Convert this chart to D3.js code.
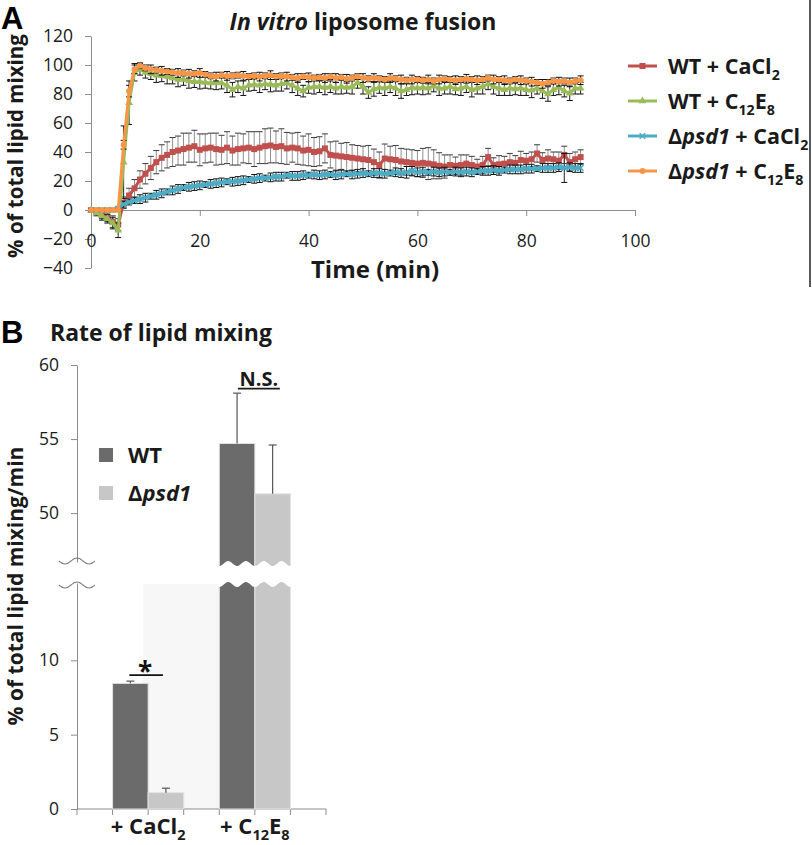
<!DOCTYPE html>
<html><head><meta charset="utf-8">
<script src="https://cdn.jsdelivr.net/npm/d3@7/dist/d3.min.js"></script>
<style>
html,body{margin:0;padding:0;background:#fff;}
svg{display:block;}
text{font-family:"Open Sans","Noto Sans",sans-serif;}
</style></head>
<body>
<svg id="chart" width="812" height="845"></svg>
<script>
// ---------------- DATA: Panel A ----------------
const timeMin = [0,1,2,3,4,5,6,7,8,9,10,11,12,13,14,15,16,17,18,19,20,21,22,23,24,25,26,27,28,29,30,
  31,32,33,34,35,36,37,38,39,40,41,42,43,44,45,46,47,48,49,50,51,52,53,54,55,56,57,58,59,60,
  61,62,63,64,65,66,67,68,69,70,71,72,73,74,75,76,77,78,79,80,81,82,83,84,85,86,87,88,89,90];

const wtCaCl2 = [0,-1,-3,-5,-8,-10,5,10,15,21,
  25,29,33,36,38,40,41,42,43,44,
  41.5,42.5,43,42,41.5,43,41,42,42.5,43,
  42,43,44,44.5,43.5,44,42.5,43,42.5,41,
  41.5,40,40.5,42.5,38,37.5,37,36.5,36,35.5,
  35,34.5,33,31,35.5,35,34.5,33.5,33,32.5,
  32,32.5,32,31.5,30.5,30,31,30.5,31,32,
  31,30,31,36.5,31,31.5,32,33,32.5,34.5,
  34,35,39,34.5,35.5,35,34,38,33,35,
  36.5];
const wtCaCl2Err = [1,2,3,3,4,4,4,5,6,6,
  7,8,8,9,9,10,10,11,10,11,
  11,10,10,11,10,11,10,11,10,11,
  12,11,12,12,11,12,11,10,11,10,
  11,10,10,10,9,10,9,10,9,9,
  9,10,9,9,10,9,10,9,9,9,
  9,10,11,10,9,8,7,6,7,6,
  6,5,6,6,5,6,5,6,5,6,
  5,5,6,5,6,5,6,6,6,5,
  5];

const wtC12E8 = [0,-2,-4,-6,-9,-14,33,74,95,97,
  95,94,93,92.5,92,91,90,90,89,88.5,
  88.5,88,87.5,88,87.5,86,83,85,84,86,
  86.5,86,87,86.5,86,87,87.5,86,84,82,
  84.5,85,85,84.5,85,84,85,84.5,85,88,
  85,81,83.5,84.5,84,85,84,82,83,84.5,
  84,84.5,84,85.5,84,84,85,83.5,84,85,
  83,84,85,87,85,84,83,84,83.5,84,
  83,82.5,84,82,80,83,84.5,82,80.5,84,
  84];
const wtC12E8Err = [1,2,3,3,4,5,25,15,6,4,
  4,4,5,4,5,4,5,4,5,4,
  5,4,4,5,4,5,5,4,5,4,
  4,5,4,5,4,5,4,5,5,4,
  4,5,4,5,4,4,5,4,5,4,
  5,4,5,4,5,4,5,5,4,5,
  4,5,4,4,5,4,5,4,5,4,
  5,4,5,4,5,5,4,5,4,5,
  4,5,4,5,5,4,5,4,5,4,
  4];

const psd1CaCl2 = [0,0,0,0,0,1,4,5.5,6.5,7.5,
  8.5,9.5,10.5,11.5,12.5,13.5,14.5,15.5,16,16.5,
  17,17.5,18,18.5,19,19.5,19.5,20,20.5,21,
  21.5,22,22,22.5,23,23,24,23.5,23.5,24,
  24,24.5,24,24.5,24.5,24,24.5,25,24.5,25,
  25.5,25,25.5,25.5,25,25.5,26,25.5,26,27,
  26,26.5,26,26.5,26,26.5,26,26.5,26,26.5,
  26,26.5,27,27,27.5,27,27.5,28,28,28,
  28.5,28.5,28.5,29,29,29,29.5,29,29.5,29,
  29];
const psd1CaCl2Err = [1,1,1,1,1,1,2,2,2,3,
  3,2,3,3,2,3,3,2,3,3,
  3,2,3,3,3,2,3,3,3,2,
  3,3,2,3,3,3,2,3,3,3,
  2,3,3,3,2,3,3,2,3,3,
  3,2,3,3,3,2,3,3,4,3,
  3,3,2,3,3,3,2,3,3,3,
  3,2,3,3,3,3,2,3,3,3,
  3,3,2,3,3,3,3,10,3,3,
  3];

const psd1C12E8 = [0,0,0,0,0,0,45,82,97,99.5,
  98,97,96.5,96,95.5,95,94.5,94.5,94,94,
  94.5,93.5,92.5,92,93,92.5,92.5,93,92.5,92,
  92.5,92,92.5,93,92,92.5,92,91.5,91,92,
  91.5,91,91.5,91,92,91,91.5,90.5,91,92,
  91,90.5,91,90.5,90,91,90.5,90,89.5,90,
  90,89.5,90,89,90,90.5,90,89.5,90,90.5,
  90,89.5,90,91,90,90,89.5,89,90,89.5,
  89,88.5,88,87,88,89,88.5,89,88,89,
  89.5];
const psd1C12E8Err = [1,1,1,1,1,1,3,4,3,2,
  2,3,2,3,2,2,3,2,3,2,
  3,2,2,3,2,3,2,2,3,2,
  2,3,2,3,2,2,3,2,3,2,
  3,2,2,3,2,3,2,3,2,2,
  3,2,3,2,2,3,2,3,2,3,
  2,2,3,2,3,2,2,3,2,3,
  2,3,2,2,3,2,3,2,2,3,
  2,3,2,3,2,2,3,2,3,2,
  3];

const xTicksA = [0,20,40,60,80,100];
const yTicksA = [-40,-20,0,20,40,60,80,100,120];

// ---------------- DATA: Panel B ----------------
const rateCategories = ["CaCl2", "C12E8"];
const rateGroups = ["WT", "psd1"];
const rateWT = [8.45, 54.7];
const rateWTErr = [0.15, 3.4];
const ratePsd1 = [1.1, 51.3];
const ratePsd1Err = [0.3, 3.3];
const yTicksBLow = [0, 5, 10];
const yTicksBHigh = [50, 55, 60];

// ---------------- DRAWING ----------------
const svg = d3.select("#chart");
const AXIS_COLOR = "#8c8c8c";
const TXT = "#1a1a1a";

function styleAxis(g, fs) {
  g.attr("font-family", null).attr("font-size", null);
  g.select(".domain").attr("stroke", AXIS_COLOR).attr("stroke-width", 1);
  g.selectAll(".tick line").attr("stroke", AXIS_COLOR);
  g.selectAll(".tick text").attr("fill", TXT).style("font-size", fs + "px");
}

// helper for rich text parts
function addParts(textSel, parts, baseSize, subShift) {
  const sh = subShift == null ? 0.3 : subShift;
  let shifted = 0;
  parts.forEach(p => {
    const ts = textSel.append("tspan").text(p.t);
    if (p.it) ts.style("font-style", "italic");
    if (p.sub) {
      ts.style("font-size", (baseSize * 0.66) + "px").attr("dy", baseSize * sh - shifted);
      shifted = baseSize * sh;
    } else if (shifted) {
      ts.attr("dy", -shifted);
      shifted = 0;
    }
  });
}

// ======== Panel A ========
const xA = d3.scaleLinear().domain([0, 100]).range([91, 635]);
const yA = d3.scaleLinear().domain([-40, 120]).range([268, 36]);

const gyA = svg.append("g").attr("transform", `translate(${xA(0)},0)`)
  .call(d3.axisLeft(yA).tickValues(yTicksA).tickSize(6).tickSizeOuter(0).tickPadding(12));
styleAxis(gyA, 17.5);
const gxA = svg.append("g").attr("transform", `translate(0,${yA(0)})`)
  .call(d3.axisBottom(xA).tickValues(xTicksA).tickSize(6).tickSizeOuter(0).tickPadding(19));
styleAxis(gxA, 17.5);

const seriesA = [
  {values: wtCaCl2, err: wtCaCl2Err, color: "#C0504D", marker: "square", errStem: "#8f8f8f", errCap: "#3a3a3a",
   label: [{t:"WT + CaCl"},{t:"2",sub:true}]},
  {values: wtC12E8, err: wtC12E8Err, color: "#9BBB59", marker: "triangle", errStem: "#222", errCap: "#111",
   label: [{t:"WT + C"},{t:"12",sub:true},{t:"E"},{t:"8",sub:true}]},
  {values: psd1CaCl2, err: psd1CaCl2Err, color: "#4BACC6", marker: "times", errStem: "#222", errCap: "#111",
   label: [{t:"Δ"},{t:"psd1",it:true},{t:" + CaCl"},{t:"2",sub:true}]},
  {values: psd1C12E8, err: psd1C12E8Err, color: "#F79646", marker: "circle", errStem: "#222", errCap: "#111",
   label: [{t:"Δ"},{t:"psd1",it:true},{t:" + C"},{t:"12",sub:true},{t:"E"},{t:"8",sub:true}]}
];

function drawMarker(g, type, color, cx, cy, scale) {
  const s = scale || 1;
  if (type === "square") {
    g.append("rect").attr("x", cx - 3*s).attr("y", cy - 3*s).attr("width", 6*s).attr("height", 6*s).attr("fill", color);
  } else if (type === "triangle") {
    g.append("path").attr("d", d3.symbol(d3.symbolTriangle, 26*s*s)()).attr("transform", `translate(${cx},${cy})`).attr("fill", color);
  } else if (type === "times") {
    g.append("path").attr("d", d3.symbol(d3.symbolTimes, 22*s*s)()).attr("transform", `translate(${cx},${cy})`)
      .attr("fill", "none").attr("stroke", color).attr("stroke-width", 1.6);
  } else {
    g.append("circle").attr("cx", cx).attr("cy", cy).attr("r", 3*s).attr("fill", color);
  }
}

const lineGen = d3.line().x((d, i) => xA(timeMin[i])).y(d => yA(d));
const plotA = svg.append("g");
seriesA.forEach(s => {
  const eg = plotA.append("g");
  s.values.forEach((v, i) => {
    const x = xA(timeMin[i]);
    const y1 = yA(v - s.err[i]), y2 = yA(v + s.err[i]);
    eg.append("line").attr("x1", x).attr("x2", x).attr("y1", y1).attr("y2", y2)
      .attr("stroke", s.errStem).attr("stroke-width", 1);
    [y1, y2].forEach(yy => eg.append("line").attr("x1", x - 3).attr("x2", x + 3).attr("y1", yy).attr("y2", yy)
      .attr("stroke", s.errCap).attr("stroke-width", 1));
  });
  plotA.append("path").attr("d", lineGen(s.values)).attr("fill", "none")
    .attr("stroke", s.color).attr("stroke-width", 3).attr("stroke-linejoin", "round");
  const mg = plotA.append("g");
  s.values.forEach((v, i) => drawMarker(mg, s.marker, s.color, xA(timeMin[i]), yA(v)));
});

// Title A
const tA = svg.append("text").attr("x", 363).attr("y", 30).attr("text-anchor", "middle")
  .style("font-size", "23px").style("font-weight", "bold").attr("fill", TXT);
tA.append("tspan").style("font-style", "italic").text("In vitro");
tA.append("tspan").text(" liposome fusion");

// Axis titles A
svg.append("text").attr("x", xA(50) + 12).attr("y", 278).attr("text-anchor", "middle")
  .style("font-size", "24px").style("font-weight", "bold").attr("fill", TXT).text("Time (min)");
svg.append("text").attr("transform", "translate(23,146) rotate(-90)").attr("text-anchor", "middle")
  .style("font-size", "20.5px").style("font-weight", "bold").attr("fill", TXT).text("% of total lipid mixing");

// Panel letter A
svg.append("text").attr("x", 1).attr("y", 29).style("font-family", "'Liberation Sans', Arial, sans-serif")
  .style("font-size", "31px").style("font-weight", "bold").attr("fill", "#000").text("A");

// Legend A
const legA = svg.append("g");
seriesA.forEach((s, i) => {
  const cy = 66 + i * 35;
  legA.append("line").attr("x1", 628).attr("x2", 657).attr("y1", cy).attr("y2", cy)
    .attr("stroke", s.color).attr("stroke-width", 3);
  drawMarker(legA, s.marker, s.color, 642.5, cy, 1);
  const t = legA.append("text").attr("x", 668).attr("y", cy + 8)
    .style("font-size", "21.5px").style("font-weight", "bold").attr("fill", TXT);
  addParts(t, s.label, 21.5);
});

// right border line
svg.append("line").attr("x1", 810).attr("x2", 810).attr("y1", 0).attr("y2", 287)
  .attr("stroke", "#222").attr("stroke-width", 1.5);

// ======== Panel B ========
const x0B = d3.scaleBand().domain(rateCategories).range([77, 326]).paddingInner(1/3).paddingOuter(1/3);
const x1B = d3.scaleBand().domain(rateGroups).range([0, x0B.bandwidth()]);
const yLowB = d3.scaleLinear().domain([0, 15.2]).range([809, 583]);
const yUpB = d3.scaleLinear().domain([46.7, 60]).range([562, 365]);
const yB = v => v <= yLowB.domain()[1] ? yLowB(v) : yUpB(v);
const groupColor = {WT: "#6b6b6b", psd1: "#c7c7c7"};

// faint background panel
svg.append("rect")
  .attr("x", x0B(rateCategories[0]) + x1B.bandwidth() - 5)
  .attr("y", yLowB.range()[1] + 1)
  .attr("width", x0B(rateCategories[1]) - (x0B(rateCategories[0]) + x1B.bandwidth() - 5))
  .attr("height", yLowB(0) - yLowB.range()[1] - 1)
  .attr("fill", "#f7f7f7");

const gyBLow = svg.append("g").attr("transform", "translate(77,0)")
  .call(d3.axisLeft(yLowB).tickValues(yTicksBLow).tickSize(6).tickSizeOuter(0).tickPadding(12));
styleAxis(gyBLow, 17.5);
const gyBUp = svg.append("g").attr("transform", "translate(77,0)")
  .call(d3.axisLeft(yUpB).tickValues(yTicksBHigh).tickSize(6).tickSizeOuter(0).tickPadding(12));
styleAxis(gyBUp, 17.5);

// axis break squiggles
function squiggle(cx, cy, w, amp) {
  const pts = d3.range(0, 31).map(k => {
    const f = k / 30;
    return [cx - w/2 + f*w, cy + amp * Math.sin(f * Math.PI * 3)];
  });
  return d3.line().curve(d3.curveBasis)(pts);
}
[yUpB.range()[0] - 1, yLowB.range()[1] + 2].forEach(yy => {
  svg.append("path").attr("d", squiggle(77, yy, 36, 3)).attr("fill", "none")
    .attr("stroke", "#7a7a7a").attr("stroke-width", 1.1);
});

// x axis B
const bw = x0B.bandwidth();
svg.append("line").attr("x1", x0B.range()[0]).attr("x2", x0B.range()[1]).attr("y1", yLowB(0)).attr("y2", yLowB(0))
  .attr("stroke", AXIS_COLOR);
const tickXs = [x0B.range()[0], x0B.range()[1]];
rateCategories.forEach(c => { tickXs.push(x0B(c), x0B(c) + bw/2, x0B(c) + bw); });
tickXs.forEach(tx => svg.append("line").attr("x1", tx).attr("x2", tx).attr("y1", yLowB(0)).attr("y2", yLowB(0) + 6)
  .attr("stroke", AXIS_COLOR));

// bars
const wtVals = [rateWT, rateWTErr], psVals = [ratePsd1, ratePsd1Err];
rateCategories.forEach((c, ci) => {
  rateGroups.forEach(gk => {
    const vals = gk === "WT" ? wtVals : psVals;
    const v = vals[0][ci], e = vals[1][ci];
    const bx = x0B(c) + x1B(gk);
    svg.append("rect").attr("x", bx).attr("y", yB(v)).attr("width", x1B.bandwidth())
      .attr("height", yLowB(0) - yB(v)).attr("fill", groupColor[gk])
      .attr("stroke", "#e2e2e2").attr("stroke-width", 1);
    const cx = bx + x1B.bandwidth() / 2;
    svg.append("line").attr("x1", cx).attr("x2", cx).attr("y1", yB(v)).attr("y2", yB(v + e))
      .attr("stroke", "#555").attr("stroke-width", 1.2);
    svg.append("line").attr("x1", cx - 4).attr("x2", cx + 4).attr("y1", yB(v + e)).attr("y2", yB(v + e))
      .attr("stroke", "#555").attr("stroke-width", 1.2);
  });
});

// white wavy break band on bars that exceed the lower segment
rateCategories.forEach((c, ci) => {
  if (Math.max(rateWT[ci], ratePsd1[ci]) <= yLowB.domain()[1]) return;
  const xs = x0B(c) - 1, xe = x0B(c) + bw + 1;
  const top = yUpB.range()[0] + 1.5, bot = yLowB.range()[1] + 1.5;
  const n = 60, per = x1B.bandwidth() / 2;
  const topPts = d3.range(n + 1).map(k => { const x = xs + (xe - xs) * k / n; return [x, top + 2.5 * Math.cos((x - x0B(c)) / per * 2 * Math.PI)]; });
  const botPts = d3.range(n + 1).map(k => { const x = xe - (xe - xs) * k / n; return [x, bot + 2.5 * Math.cos((x - x0B(c)) / per * 2 * Math.PI)]; });
  svg.append("path").attr("d", d3.line()(topPts.concat(botPts)) + "Z").attr("fill", "#fff");
});

// category labels
const catLabels = {
  CaCl2: [{t:"+ CaCl"},{t:"2",sub:true}],
  C12E8: [{t:"+ C"},{t:"12",sub:true},{t:"E"},{t:"8",sub:true}]
};
rateCategories.forEach(c => {
  const t = svg.append("text").attr("x", x0B(c) + bw/2).attr("y", 834).attr("text-anchor", "middle")
    .style("font-size", "22px").style("font-weight", "bold").attr("fill", TXT);
  addParts(t, catLabels[c], 22, 0.25);
});

// significance marks
{
  const c = rateCategories[0];
  const xw = x0B(c) + x1B("WT") + x1B.bandwidth()/2;
  const xp = x0B(c) + x1B("psd1") + x1B.bandwidth()/2;
  const yl = yB(rateWT[0] + rateWTErr[0]) - 6;
  svg.append("line").attr("x1", xw - 1).attr("x2", xp - 3).attr("y1", yl).attr("y2", yl).attr("stroke", "#111").attr("stroke-width", 1.6);
  svg.append("text").attr("x", (xw + xp) / 2 - 3).attr("y", yl + 6).attr("text-anchor", "middle")
    .style("font-size", "26px").style("font-weight", "bold").attr("fill", "#111").text("*");
}
{
  const c = rateCategories[1];
  const cx = x0B(c) + bw/2 + 4;
  const yt = yB(rateWT[1] + rateWTErr[1]) - 7;
  svg.append("text").attr("x", cx).attr("y", yt).attr("text-anchor", "middle")
    .style("font-size", "20px").style("font-weight", "bold").attr("fill", TXT).text("N.S.");
  svg.append("line").attr("x1", cx - 21).attr("x2", cx + 21).attr("y1", yt + 2.5).attr("y2", yt + 2.5)
    .attr("stroke", TXT).attr("stroke-width", 1.6);
}

// legend B
const legB = [{k:"WT", parts:[{t:"WT"}]}, {k:"psd1", parts:[{t:"Δ"},{t:"psd1",it:true}]}];
legB.forEach((d, i) => {
  const cy = 455 + i * 38;
  svg.append("rect").attr("x", 99).attr("y", cy - 7).attr("width", 14).attr("height", 14).attr("fill", groupColor[d.k]);
  const t = svg.append("text").attr("x", 128).attr("y", cy + 8).style("font-size", "22px").style("font-weight", "bold").attr("fill", TXT);
  addParts(t, d.parts, 22);
});

// Title B
svg.append("text").attr("x", 50).attr("y", 341).style("font-size", "23px").style("font-weight", "bold")
  .attr("fill", TXT).text("Rate of lipid mixing");
svg.append("text").attr("x", 1).attr("y", 343).style("font-family", "'Liberation Sans', Arial, sans-serif")
  .style("font-size", "31px").style("font-weight", "bold").attr("fill", "#000").text("B");
svg.append("text").attr("transform", "translate(23,586) rotate(-90)").attr("text-anchor", "middle")
  .style("font-size", "21px").style("font-weight", "bold").attr("fill", TXT).text("% of total lipid mixing/min");
</script>
</body></html>
